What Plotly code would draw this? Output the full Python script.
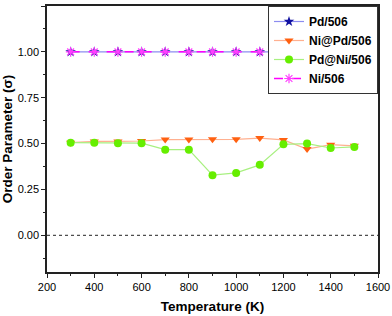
import plotly.graph_objects as go

temperature = [300, 400, 500, 600, 700, 800, 900, 1000, 1100, 1200, 1300, 1400, 1500]
pd506 = [1.0] * 13
ni_at_pd = [0.505, 0.512, 0.512, 0.514, 0.522, 0.522, 0.523, 0.523, 0.530, 0.520, 0.470, 0.494, 0.488]
pd_at_ni = [0.505, 0.505, 0.502, 0.502, 0.467, 0.467, 0.328, 0.340, 0.384, 0.496, 0.500, 0.476, 0.482]
ni506 = [1.0] * 13

fig = go.Figure()
fig.add_trace(go.Scatter(x=temperature, y=pd506, name="Pd/506", mode="lines+markers",
                         line=dict(color="#8c8cf0", width=1.2),
                         marker=dict(symbol="star", size=8, color="#1010a0")))
fig.add_trace(go.Scatter(x=temperature, y=ni_at_pd, name="Ni@Pd/506", mode="lines+markers",
                         line=dict(color="#ffb090", width=1.2),
                         marker=dict(symbol="triangle-down", size=8, color="#ff6010")))
fig.add_trace(go.Scatter(x=temperature, y=pd_at_ni, name="Pd@Ni/506", mode="lines+markers",
                         line=dict(color="#a8f080", width=1.2),
                         marker=dict(symbol="circle", size=8, color="#66ee00")))
fig.add_trace(go.Scatter(x=temperature, y=ni506, name="Ni/506", mode="lines+markers",
                         line=dict(color="#ff00ff", width=1.5, dash="dash"),
                         marker=dict(symbol="asterisk-open", size=8,
                                     line=dict(color="#ff40ff", width=1.2), color="#ff40ff")))

fig.add_hline(y=0, line=dict(color="#222222", width=1, dash="3px,3px"))

fig.update_layout(
    template="none",
    width=392, height=316,
    margin=dict(l=47, r=14, t=6, b=44, autoexpand=False),
    paper_bgcolor="white", plot_bgcolor="white",
    font=dict(family="Arial, Liberation Sans, sans-serif", size=11, color="black"),
    showlegend=True,
    legend=dict(x=1, y=1, xanchor="right", yanchor="top", bgcolor="white",
                bordercolor="#333333", borderwidth=1,
                font=dict(size=12, family="Arial, Liberation Sans, sans-serif", weight="bold"),
                tracegroupgap=0, itemwidth=30),
    xaxis=dict(range=[200, 1600], dtick=200, tick0=200, ticks="outside", ticklen=4,
               tickcolor="#222222", automargin=False,
               showline=True, linecolor="#222222", linewidth=1.5, mirror=True,
               showgrid=False, zeroline=False,
               minor=dict(dtick=100, ticks="outside", ticklen=2.5, tickcolor="#222222"),
               title=dict(text="<b>Temperature (K)</b>", font=dict(size=13.5), standoff=10)),
    yaxis=dict(range=[-0.2, 1.25], dtick=0.25, tick0=0, tickformat=".2f",
               ticks="outside", ticklen=4, tickcolor="#222222", automargin=False,
               showline=True, linecolor="#222222", linewidth=1.5, mirror=True,
               showgrid=False, zeroline=False,
               minor=dict(dtick=0.125, ticks="outside", ticklen=2.5, tickcolor="#222222"),
               title=dict(text="<b>Order Parameter (σ)</b>", font=dict(size=13.5), standoff=4)),
)

fig.write_html("out.html", config={"displayModeBar": False},
               post_script="document.body.style.margin='0';")
